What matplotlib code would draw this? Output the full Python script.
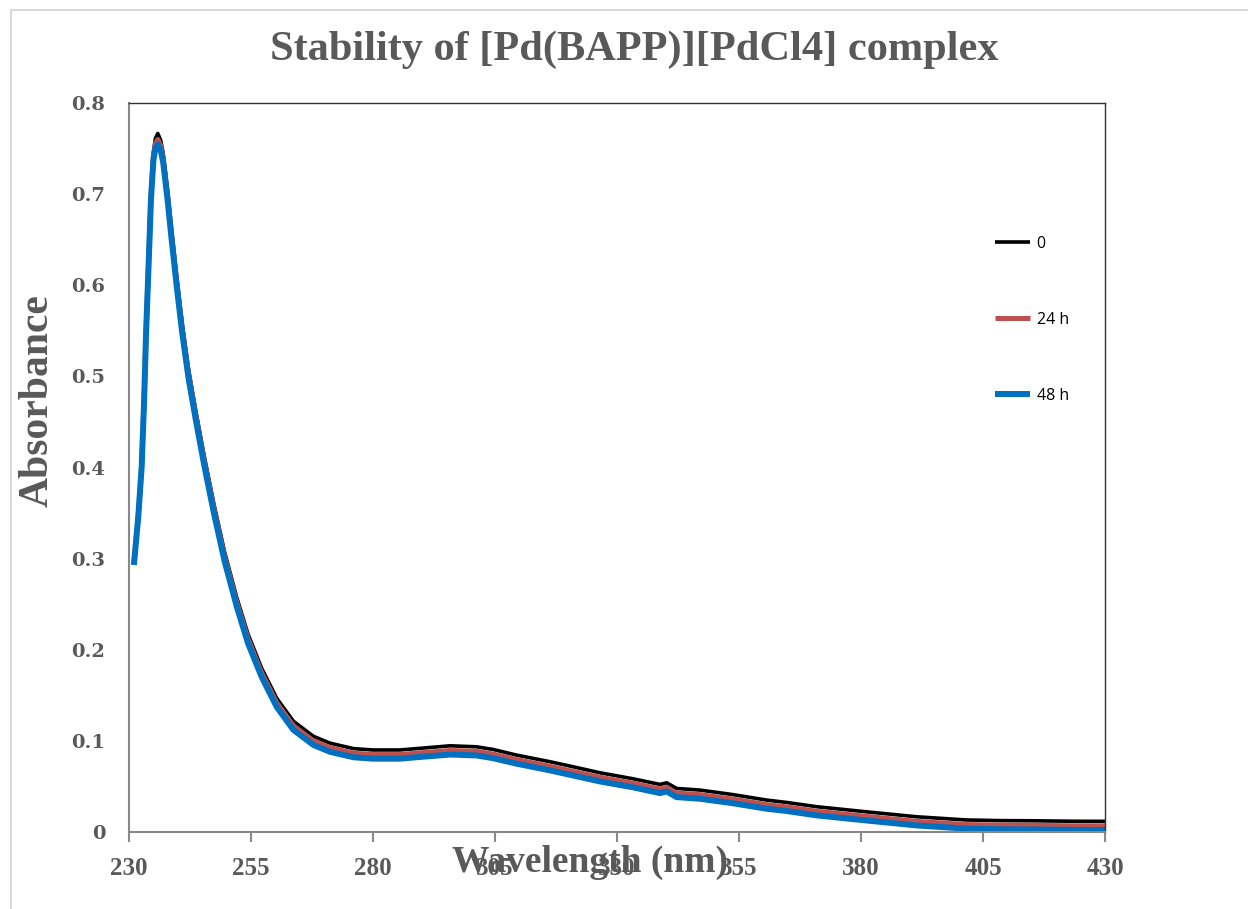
import matplotlib
matplotlib.use("Agg")
import matplotlib.pyplot as plt
from matplotlib.patches import Rectangle

# ---- data ----
wavelength = [231.0, 231.9, 232.6, 233.1, 233.5, 234.0, 234.5, 235.0, 235.4, 235.9, 236.5,
              237.0, 237.9, 238.7, 239.8, 240.9, 242.2, 243.7, 245.4, 247.4, 249.6,
              252.1, 254.4, 257.2, 260.3, 263.7, 267.8, 271.2,
              276.0, 280.0, 285.5, 290.0, 295.8, 301.2, 304.6, 309.4, 316.3, 321.0,
              326.5, 333.3, 338.8, 340.2, 342.2, 347.0, 353.8, 360.7, 364.8, 371.0,
              381.0, 391.4, 401.6, 408.5, 415.3, 423.5, 430.0]

abs_0h = [0.295, 0.348, 0.403, 0.476, 0.550, 0.623, 0.699, 0.746, 0.761, 0.7666, 0.759,
          0.745, 0.704, 0.662, 0.608, 0.558, 0.508, 0.462, 0.413, 0.360, 0.307,
          0.257, 0.217, 0.1795, 0.1465, 0.1215, 0.105, 0.0975,
          0.0915, 0.090, 0.090, 0.092, 0.0946, 0.0935, 0.0906, 0.0844, 0.0771, 0.0716,
          0.065, 0.0584, 0.0522, 0.054, 0.0478, 0.046, 0.041, 0.035, 0.0324, 0.0277,
          0.0222, 0.0167, 0.0132, 0.0125, 0.0123, 0.0118, 0.0117]

abs_24h = [0.294, 0.347, 0.402, 0.475, 0.549, 0.622, 0.697, 0.742, 0.755, 0.760, 0.753,
           0.740, 0.699, 0.657, 0.603, 0.553, 0.503, 0.457, 0.408, 0.355, 0.302,
           0.252, 0.212, 0.1745, 0.1415, 0.1165, 0.100, 0.0925,
           0.0865, 0.085, 0.085, 0.087, 0.0895, 0.0885, 0.0855, 0.0795, 0.072, 0.0665,
           0.060, 0.0535, 0.0472, 0.049, 0.0428, 0.041, 0.036, 0.030, 0.0275, 0.0227,
           0.0172, 0.0117, 0.0082, 0.0075, 0.0073, 0.0068, 0.0067]

abs_48h = [0.293, 0.346, 0.401, 0.474, 0.548, 0.620, 0.694, 0.737, 0.750, 0.755, 0.748,
           0.735, 0.694, 0.652, 0.598, 0.548, 0.498, 0.452, 0.403, 0.350, 0.297,
           0.247, 0.207, 0.170, 0.137, 0.112, 0.0955, 0.088,
           0.082, 0.0805, 0.0805, 0.0825, 0.085, 0.084, 0.081, 0.075, 0.0676, 0.062,
           0.0555, 0.049, 0.0427, 0.0445, 0.0383, 0.0365, 0.0315, 0.0255, 0.023, 0.0182,
           0.0127, 0.0072, 0.0037, 0.003, 0.0028, 0.0023, 0.0022]

series_labels = ["0", "24 h", "48 h"]
series_colors = ["#000000", "#C0504D", "#0070C0"]
x_ticks = [230, 255, 280, 305, 330, 355, 380, 405, 430]
y_ticks = [0, 0.1, 0.2, 0.3, 0.4, 0.5, 0.6, 0.7, 0.8]

W, H = 1248, 909
fig = plt.figure(figsize=(W / 100, H / 100), dpi=100)
fig.patch.set_facecolor("white")

# outer chart border (light grey)
fig.patches.append(Rectangle((11 / W, -0.1), 1.2, 1 - 10 / H + 0.1,
                             transform=fig.transFigure, fill=False,
                             edgecolor="#d9d9d9", linewidth=1.5))

ax = fig.add_axes([129 / W, 1 - 832 / H, (1105 - 129) / W, (832 - 103) / H])

widths = [2.6, 3.6, 4.3]
for ys, lab, col, lw in zip([abs_0h, abs_24h, abs_48h], series_labels, series_colors, widths):
    ax.plot(wavelength, ys, color=col, linewidth=lw, label=lab,
            solid_joinstyle="round", solid_capstyle="butt")

ax.set_xlim(230, 430)
ax.set_ylim(0, 0.8)
ax.set_xticks(x_ticks)
ax.set_yticks(y_ticks)
ax.set_xticklabels([str(t) for t in x_ticks])
ax.set_yticklabels(["0"] + [f"{t:.1f}" for t in y_ticks[1:]])

grey = "#595959"
for lab in ax.get_xticklabels():
    lab.set_fontfamily("Liberation Serif")
    lab.set_fontweight("bold")
    lab.set_fontsize(18)
    lab.set_color(grey)
for lab in ax.get_yticklabels():
    lab.set_fontfamily("DejaVu Serif")
    lab.set_fontweight("bold")
    lab.set_fontsize(14)
    lab.set_color(grey)

ax.tick_params(axis="x", direction="out", length=7, width=1.5, color="#898989", pad=11)
ax.tick_params(axis="y", length=0, pad=17)

for s in ["left", "bottom"]:
    ax.spines[s].set_color("#898989")
    ax.spines[s].set_linewidth(1.5)
for s in ["top", "right"]:
    ax.spines[s].set_color("#333333")
    ax.spines[s].set_linewidth(1.0)

ax.set_xlabel("Wavelength (nm)", fontfamily="Liberation Serif", fontweight="bold",
              fontsize=27, color=grey)
ax.xaxis.set_label_coords((590 - 129) / 976, -0.017)
ax.set_ylabel("Absorbance", fontfamily="Liberation Serif", fontweight="bold",
              fontsize=30, color=grey)
ax.yaxis.set_label_coords((57 - 129) / 976, 1 - (401 - 103) / 729)

fig.text(634 / W, 1 - 50 / H, "Stability of [Pd(BAPP)][PdCl4] complex",
         ha="center", va="center", fontfamily="Liberation Serif", fontweight="bold",
         fontsize=30.5, color=grey)

leg = ax.legend(loc="upper left", bbox_to_anchor=(995 / W, 1 - 236 / H),
                bbox_transform=fig.transFigure, frameon=False,
                prop={"family": "Open Sans", "size": 11.5},
                handlelength=2.2, handletextpad=0.4, labelspacing=3.75,
                borderpad=0, borderaxespad=0)

fig.savefig("out.png", dpi=100, facecolor="white")
